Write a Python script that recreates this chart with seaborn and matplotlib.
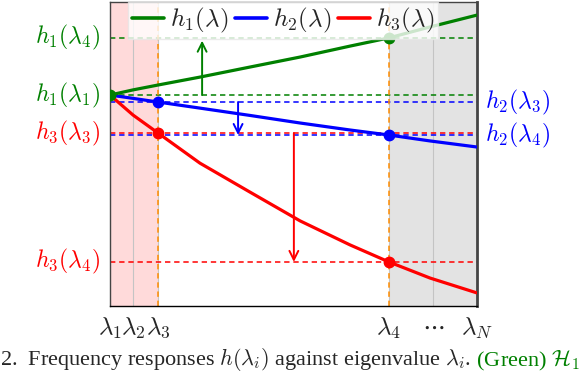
"""Frequency responses h(lambda_i) against eigenvalue lambda_i."""

import numpy as np
import pandas as pd
import matplotlib
import matplotlib.pyplot as plt
import seaborn as sns

matplotlib.use("Agg")

# eigenvalues on a normalised axis (lambda_1 = 0, lambda_N = 1)
LAMBDA = [0.0, 0.063, 0.131, 0.245, 0.381, 0.518, 0.654, 0.760, 0.872, 1.0]
H1 = [0.694, 0.711, 0.727, 0.753, 0.786, 0.819, 0.855, 0.882, 0.918, 0.957]
H2 = [0.694, 0.683, 0.671, 0.651, 0.627, 0.602, 0.579, 0.5625, 0.543, 0.523]
H3 = [0.694, 0.628, 0.569, 0.470, 0.375, 0.280, 0.201, 0.145, 0.092, 0.043]

I1, I3, I4 = 0, 2, 7  # positions of lambda_1, lambda_3, lambda_4 in LAMBDA

TICK_POS = [0.0, 0.063, 0.131, 0.760, 0.880, 1.0]
TICK_LABELS = [r"$\lambda_1$", r"$\lambda_2$", r"$\lambda_3$",
               r"$\lambda_4$", r"$\cdots$", r"$\lambda_N$"]
SERIES = [r"$h_1(\lambda)$", r"$h_2(\lambda)$", r"$h_3(\lambda)$"]

GREEN = "#008000"
BLUE = "#0000ff"
RED = "#ff0000"
ORANGE = "#ff8c00"
PINK = "#ffdada"
GREY = "#e3e3e3"
FS = 17

sns.set_theme(style="white")
plt.rcParams["mathtext.fontset"] = "cm"
plt.rcParams["font.family"] = ["Liberation Serif", "DejaVu Serif"]

df = pd.DataFrame({
    "lam": LAMBDA * 3,
    "h": H1 + H2 + H3,
    "curve": sum([[s] * len(LAMBDA) for s in SERIES], []),
})
palette = dict(zip(SERIES, [GREEN, BLUE, RED]))

fig = plt.figure(figsize=(5.86, 3.74), dpi=100)
ax = fig.add_axes([0.1877, 0.1818, 0.6263, 0.8128])

lam3, lam4 = LAMBDA[I3], LAMBDA[I4]
ax.axvspan(LAMBDA[I1], lam3, color=PINK, lw=0, zorder=0.2)
ax.axvspan(lam4, LAMBDA[-1], color=GREY, lw=0, zorder=0.2)
ax.set_axisbelow(True)
ax.grid(axis="x", color="#c4c4c4", lw=0.8)
ax.grid(axis="y", visible=False)

# reference levels
dash = dict(ls=(0, (3.5, 2.5)), lw=1.1, zorder=2)
for val, col in [(H1[I1], GREEN), (H1[I4], GREEN), (H2[I3], BLUE),
                 (H2[I4], BLUE), (H3[I3], RED), (H3[I4], RED)]:
    ax.axhline(val, color=col, **dash)
for lv in (lam3, lam4):
    ax.axvline(lv, color=ORANGE, **dash)

sns.lineplot(data=df, x="lam", y="h", hue="curve", palette=palette,
             hue_order=SERIES[::-1], sort=False, linewidth=2.3,
             legend=False, ax=ax, zorder=3)

# marked samples
for vals, col, idx in [(H2, BLUE, (I3, I4)), (H3, RED, (I3, I4)),
                       (H1, GREEN, (I1, I4))]:
    ax.plot([LAMBDA[i] for i in idx], [vals[i] for i in idx], "o",
            color=col, ms=7.5, mec=col, zorder=4)

# arrows showing the change between the marked responses
arrow = dict(arrowstyle="->", lw=1.4, shrinkA=0, mutation_scale=16)
ax.annotate("", xy=(0.251, H1[I4]), xytext=(0.251, H1[I1]),
            arrowprops=dict(color=GREEN, shrinkB=2, **arrow), zorder=3)
ax.annotate("", xy=(0.349, H2[I4]), xytext=(0.349, H2[I3]),
            arrowprops=dict(color=BLUE, shrinkB=0, **arrow), zorder=3)
ax.annotate("", xy=(0.501, H3[I4]), xytext=(0.501, H3[I3]),
            arrowprops=dict(color=RED, shrinkB=0, **arrow), zorder=3)

# side labels
trans = ax.get_yaxis_transform()
for text, val, col in [(r"$h_1(\lambda_4)$", H1[I4], GREEN),
                       (r"$h_1(\lambda_1)$", H1[I1], GREEN),
                       (r"$h_3(\lambda_3)$", H3[I3], RED),
                       (r"$h_3(\lambda_4)$", H3[I4], RED)]:
    ax.text(-0.027, val, text, color=col, fontsize=FS, ha="right",
            va="center", transform=trans)
for text, val, col in [(r"$h_2(\lambda_3)$", H2[I3], BLUE),
                       (r"$h_2(\lambda_4)$", H2[I4], BLUE)]:
    ax.text(1.022, val, text, color=col, fontsize=FS, ha="left",
            va="center", transform=trans)

handles = [plt.Line2D([], [], color=c, lw=2.6) for c in (GREEN, BLUE, RED)]
leg = ax.legend(handles, SERIES, loc="upper center", bbox_to_anchor=(0.472, 1.0),
                ncol=3, fontsize=18, frameon=True, framealpha=0.8,
                fancybox=False, edgecolor="#e6e6e6", handlelength=1.28,
                handletextpad=0.25, columnspacing=0.25, borderpad=0.15,
                borderaxespad=0.0)
leg.set_zorder(6)

ax.set_xlim(0, 1)
ax.set_ylim(0, 1)
ax.set_yticks([])
ax.set_xticks(TICK_POS)
ax.set_xticklabels(TICK_LABELS, fontsize=18)
ax.tick_params(axis="x", length=0, pad=7)
ax.set_xlabel("")
ax.set_ylabel("")
for side, sp in ax.spines.items():
    sp.set_visible(True)
    sp.set_color("#444444")
    sp.set_linewidth(1.0)
ax.spines["right"].set_linewidth(2.0)
ax.spines["bottom"].set_color("black")

cap = fig.text(0.0, 0.024,
               r"2.  Frequency responses $h(\lambda_i)$ against eigenvalue "
               r"$\lambda_i$.", fontsize=16, va="baseline", ha="left")
ax.annotate(r" (Green) $\mathcal{H}_1$", xy=(1, 0), xycoords=cap,
            fontsize=16, color=GREEN, va="bottom", ha="left",
            annotation_clip=False)

fig.savefig("out.png", dpi=100)
